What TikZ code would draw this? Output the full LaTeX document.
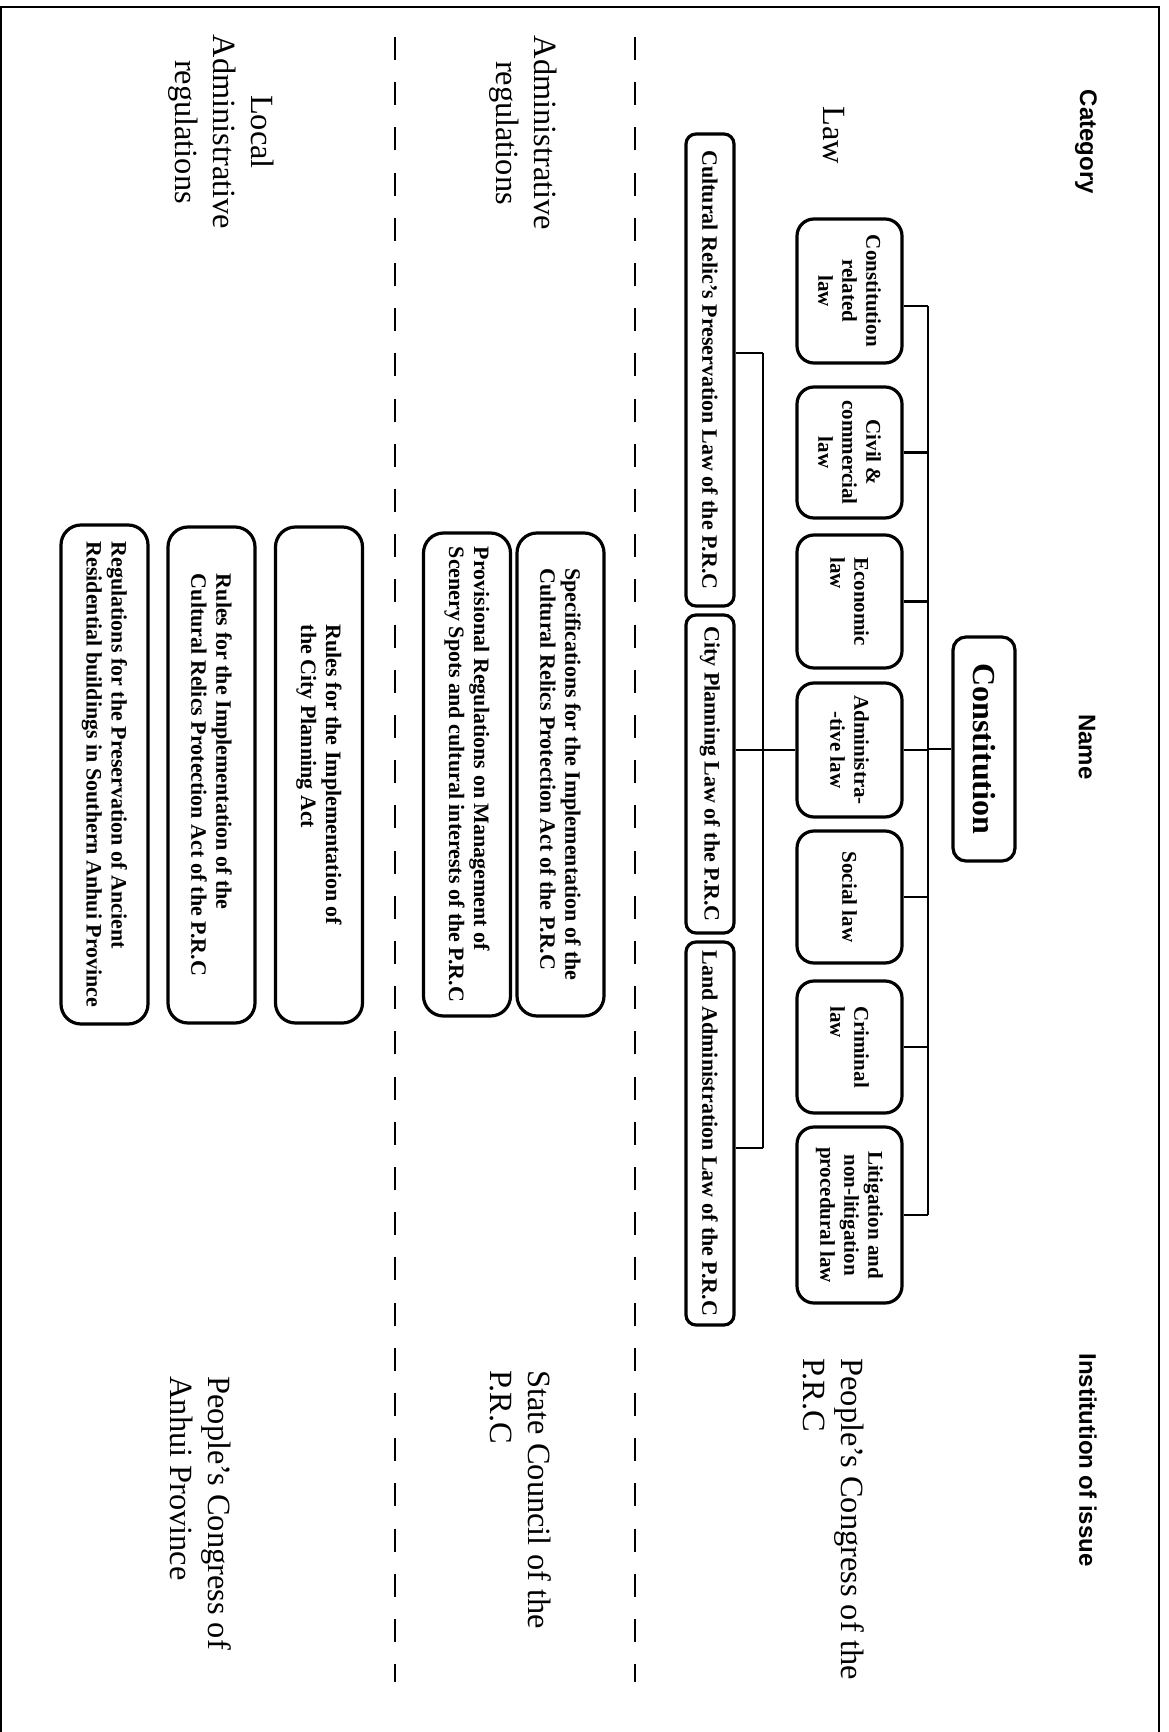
\documentclass[tikz,border=0pt]{standalone}
\usepackage{fontspec}
\setmainfont{Liberation Serif}
\newfontfamily\hdfont{Liberation Sans}
\begin{document}
\begin{tikzpicture}[x=0.5pt,y=-0.5pt,
  bx/.style={draw, line width=1.6pt, rotate=-90, inner sep=0pt, align=center},
  cat/.style={bx, rounded corners=8.5pt, minimum height=52.5pt, font=\fontsize{10.5}{12}\selectfont\bfseries},
  sec/.style={bx, rounded corners=5pt, minimum height=24pt, font=\fontsize{11}{13}\selectfont\bfseries},
  low/.style={bx, rounded corners=10pt, minimum height=43.5pt, align=left, font=\fontsize{11}{12.5}\selectfont\bfseries},
  hdr/.style={rotate=-90, inner sep=0pt, font=\hdfont\bfseries\fontsize{12}{14}\selectfont},
  lab/.style={rotate=-90, inner sep=0pt, align=center, font=\fontsize{16.2}{19}\selectfont},
  inst/.style={lab, align=left, anchor=west},
  conn/.style={line width=1.4pt},
  dsh/.style={line width=0.9pt, dash pattern=on 11.5pt off 11.1pt}
]
\useasboundingbox (0,0) rectangle (1168,1732);
\draw[line width=0.8pt] (1,1732) -- (1,7) -- (1159,7) -- (1159,1732);

% headers
\node[hdr] (hcat) at (1086,142) {Category};
\node[hdr] (hname) at (1087,747) {Name};
\node[hdr] (hinst) at (1088,1460) {Institution of issue};

% category labels
\node[lab] (llaw) at (834,135) {Law};
\node[lab] (ladm) at (523,133) {Administrative\\regulations};
\node[lab] (lloc) at (221,132) {Local\\Administrative\\regulations};

% institutions
\node[inst] (ipc) at (834,1358) {People’s Congress of the\\P.R.C};
\node[inst] (isc) at (521,1370) {State Council of the\\P.R.C};
\node[inst] (iah) at (201,1376) {People’s Congress of\\Anhui Province};

% dashed separators
\coordinate (d1a) at (635,37); \coordinate (d1b) at (635,1682);
\coordinate (d2a) at (395,37); \coordinate (d2b) at (395,1682);
\draw[dsh] (d1a) -- (d1b);
\draw[dsh] (d2a) -- (d2b);

% constitution
\node[bx, rounded corners=6.5pt, minimum width=112pt, minimum height=31pt,
      font=\fontsize{16}{18}\selectfont\bfseries] (con) at (984,749) {Constitution};

% law categories
\node[cat, minimum width=72pt] (c1) at (849.5,291) {Constitution\\related\\law};
\node[cat, minimum width=65.5pt] (c2) at (849.5,452.5) {Civil \&\\commercial\\law};
\node[cat, minimum width=66.5pt, align=left] (c3) at (849.5,601.5) {Economic\\law};
\node[cat, minimum width=67pt] (c4) at (849.5,750) {Administra-\\-tive law};
\node[cat, minimum width=66pt] (c5) at (849.5,897) {Social law};
\node[cat, minimum width=66pt, align=left] (c6) at (849.5,1047) {Criminal\\law};
\node[cat, minimum width=88pt] (c7) at (849.5,1215) {Litigation and\\non-litigation\\procedural law};

% laws
\node[sec, minimum width=236pt] (l1) at (710,370) {Cultural Relic’s Preservation Law of the P.R.C};
\node[sec, minimum width=159pt] (l2) at (710,774) {City Planning Law of the P.R.C};
\node[sec, minimum width=191.5pt] (l3) at (710,1133.5) {Land Administration Law of the P.R.C};

% administrative regulations
\node[low, minimum width=241.5pt] (a1) at (560.5,774.5) {Specifications for the Implementation of the\\Cultural Relics Protection Act of the P.R.C};
\node[low, minimum width=241.5pt] (a2) at (467,774.5) {Provisional Regulations on Management of\\Scenery Spots and cultural interests of the P.R.C};

% local administrative regulations
\node[low, minimum width=248pt] (b1) at (319,775) {Rules for the Implementation of\\the City Planning Act};
\node[low, minimum width=248pt] (b2) at (211.5,775) {Rules for the Implementation of the\\Cultural Relics Protection Act of the P.R.C};
\node[low, minimum width=249.5pt] (b3) at (104.5,774.5) {Regulations for the Preservation of Ancient\\Residential buildings in Southern Anhui Province};

% connectors
\coordinate (t1a) at (928,306);
\coordinate (t1b) at (928,1215);
\coordinate (t2a) at (763,353);
\coordinate (t2b) at (763,1148);
\draw[conn] (t1a) -- (t1b);
\draw[conn] (t1a) -- (t1a -| c1.north);
\foreach \n in {c2,c3,c4,c5,c6,c7} \draw[conn] (\n.north) -- (\n.north -| t1a);
\draw[conn] (con.south) -- (con.south -| t1a);
\draw[conn] (t2a) -- (t2b);
\draw[conn] (t2a) -- (t2a -| l1.north);
\draw[conn] (t2b) -- (t2b -| l3.north);
\draw[conn] (c4.south) -- (c4.south -| l2.north);
\end{tikzpicture}
\end{document}
